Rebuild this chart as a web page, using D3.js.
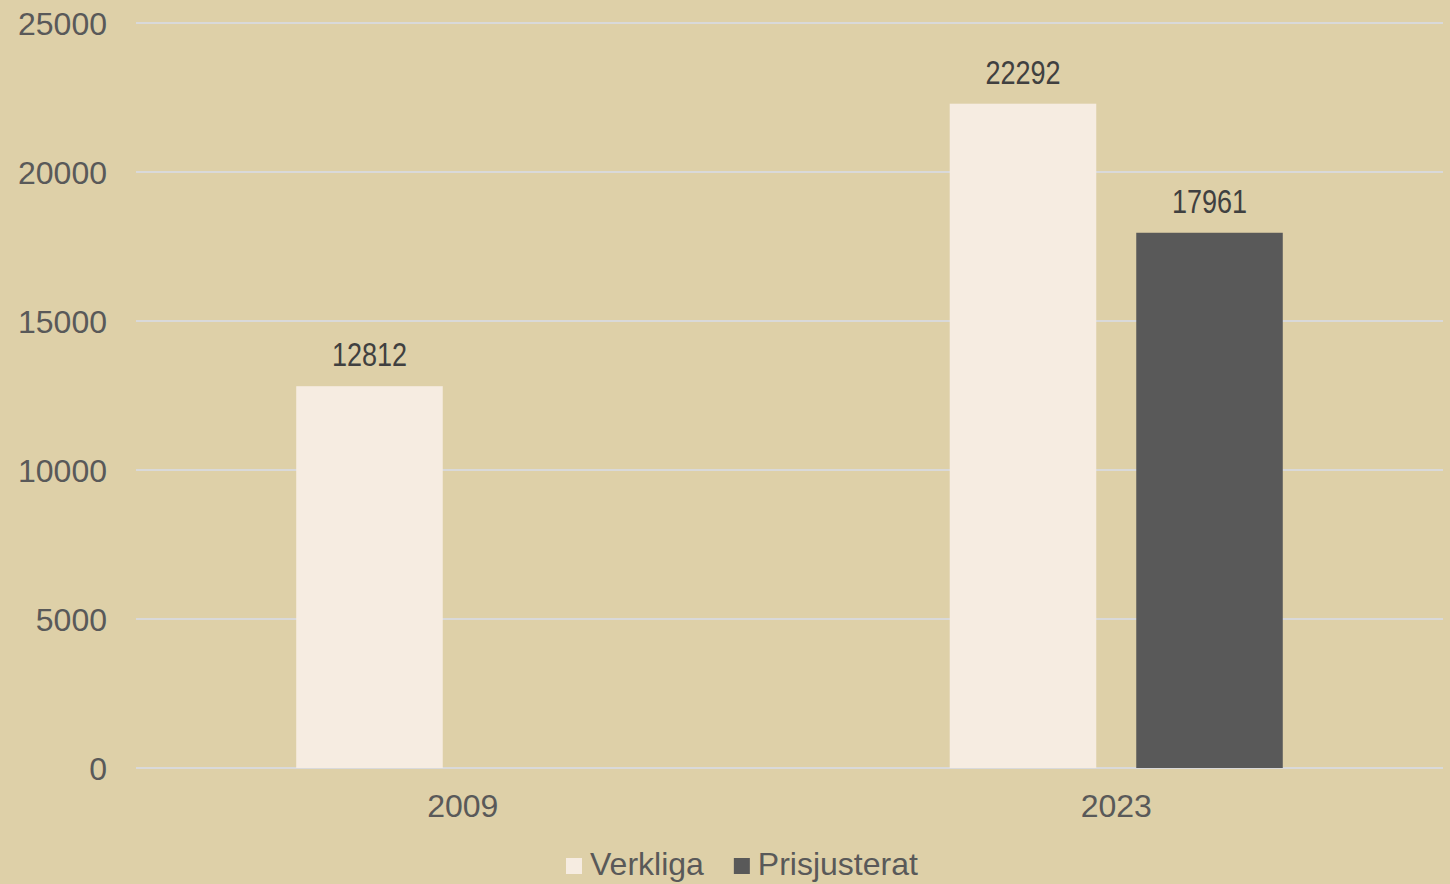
<!DOCTYPE html>
<html>
<head>
<meta charset="utf-8">
<script src="https://cdn.jsdelivr.net/npm/d3@7"></script>
<style>
  html, body { margin: 0; padding: 0; background: #DED0A8; }
  svg { display: block; }
</style>
</head>
<body>
<svg id="chart" width="1450" height="884"></svg>
<script>
const categories = ["2009", "2023"];
const seriesNames = ["Verkliga", "Prisjusterat"];
const verkliga = [12812, 22292];
const prisjusterat = [null, 17961];
const yTicks = [0, 5000, 10000, 15000, 20000, 25000];

const colors = { "Verkliga": "#F6ECE1", "Prisjusterat": "#595959" };
const seriesValues = { "Verkliga": verkliga, "Prisjusterat": prisjusterat };

const W = 1450, H = 884;
const margin = { left: 136, right: 7, top: 23, bottom: 116 };
const svg = d3.select("#chart");

svg.append("rect").attr("width", W).attr("height", H).attr("fill", "#DED0A8");

const y = d3.scaleLinear().domain([0, 25000]).range([H - margin.bottom, margin.top]);
const x0 = d3.scaleBand().domain(categories).range([margin.left, W - margin.right]).padding(0);
const x1 = d3.scaleBand().domain(seriesNames).range([0, x0.bandwidth()])
  .paddingInner(0.2145).paddingOuter(0.859);

// gridlines
svg.append("g").selectAll("line").data(yTicks).join("line")
  .attr("x1", margin.left).attr("x2", W - margin.right)
  .attr("y1", d => y(d)).attr("y2", d => y(d))
  .attr("stroke", "#D9D9D9").attr("stroke-width", 2);

// y tick labels
svg.append("g").selectAll("text").data(yTicks).join("text")
  .attr("x", 107).attr("y", d => y(d)).attr("dy", "0.36em")
  .attr("text-anchor", "end")
  .attr("font-family", "'Liberation Sans', Arial, sans-serif")
  .attr("font-size", 32).attr("fill", "#595959")
  .text(d => d);

// x labels
svg.append("g").selectAll("text").data(categories).join("text")
  .attr("x", d => x0(d) + x0.bandwidth() / 2).attr("y", 817)
  .attr("text-anchor", "middle")
  .attr("font-family", "'Liberation Sans', Arial, sans-serif")
  .attr("font-size", 32).attr("fill", "#595959")
  .text(d => d);

// bars
const barData = [];
categories.forEach((c, i) => {
  seriesNames.forEach(s => {
    const v = seriesValues[s][i];
    if (v != null) barData.push({ c, s, v });
  });
});

svg.append("g").selectAll("rect").data(barData).join("rect")
  .attr("x", d => x0(d.c) + x1(d.s))
  .attr("width", x1.bandwidth())
  .attr("y", d => y(d.v))
  .attr("height", d => y(0) - y(d.v))
  .attr("fill", d => colors[d.s]);

// value labels (condensed)
svg.append("g").selectAll("text").data(barData).join("text")
  .attr("transform", d => `translate(${x0(d.c) + x1(d.s) + x1.bandwidth() / 2},${y(d.v) - 20}) scale(0.82,1)`)
  .attr("text-anchor", "middle")
  .attr("font-family", "'Liberation Sans', Arial, sans-serif")
  .attr("font-size", 33).attr("fill", "#404040")
  .text(d => d.v);

// legend
const legend = svg.append("g");
let lx = 566;
seriesNames.forEach(s => {
  legend.append("rect").attr("x", lx).attr("y", 858).attr("width", 16).attr("height", 16)
    .attr("fill", colors[s]);
  const t = legend.append("text").attr("x", lx + 24).attr("y", 875)
    .attr("font-family", "'Liberation Sans', Arial, sans-serif")
    .attr("font-size", 32).attr("fill", "#595959").text(s);
  lx += 24 + t.node().getComputedTextLength() + 30;
});
</script>
</body>
</html>
